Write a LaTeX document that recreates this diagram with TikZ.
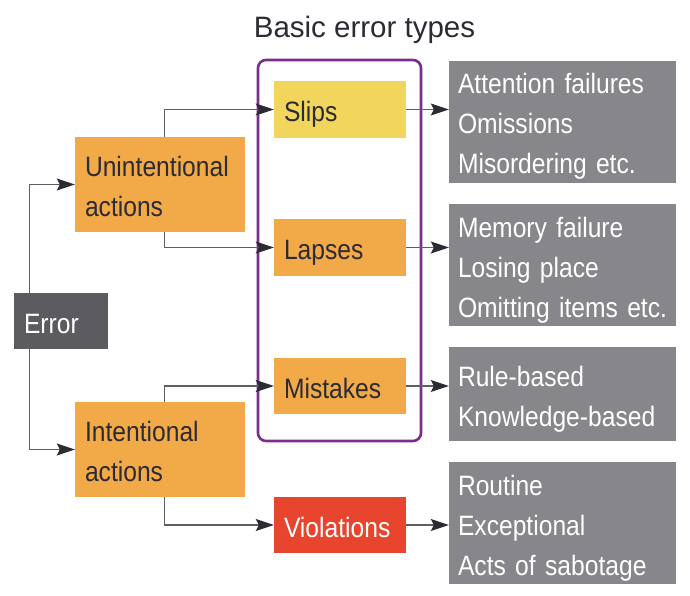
\documentclass[tikz,border=0pt]{standalone}
\usepackage{fontspec}
\setmainfont{Liberation Sans}
\newfontfamily\condfont[FakeStretch=0.88]{Liberation Sans}
\usetikzlibrary{arrows.meta}
\setlength{\parindent}{0pt}
\definecolor{orangebox}{HTML}{F2A947}
\definecolor{yellowbox}{HTML}{F2D55C}
\definecolor{redbox}{HTML}{E8452F}
\definecolor{graybox}{HTML}{87878B}
\definecolor{darkbox}{HTML}{5B5B60}
\definecolor{purpleframe}{HTML}{7B2C8F}
\definecolor{inkdark}{HTML}{2B2B33}
\definecolor{linegray}{HTML}{5E5E63}
\newcommand{\lstrut}{\rule[-8pt]{0pt}{40pt}}
\begin{document}
\begin{tikzpicture}[x=1pt,y=-1pt,
  boxbase/.style={inner xsep=10pt, inner ysep=0pt, align=left,
    font=\condfont\fontsize{28}{40}\selectfont, anchor=center},
  orangenode/.style={boxbase, fill=orangebox, text=inkdark},
  yellownode/.style={boxbase, fill=yellowbox, text=inkdark},
  rednode/.style={boxbase, fill=redbox, text=white},
  darknode/.style={boxbase, fill=darkbox, text=white},
  graynode/.style={boxbase, inner xsep=9pt, fill=graybox, text=white, text width=209pt},
  typebox/.style={text width=112pt, minimum height=57pt},
  actionbox/.style={text width=150pt, minimum height=95pt},
  conn/.style={draw=linegray, line width=1.2pt, -{Stealth[length=18pt,width=12pt,inset=3pt,color=inkdark]}},
  groupframe/.style={draw=purpleframe, line width=2.6pt, rounded corners=8pt,
    minimum width=163pt, minimum height=381pt, inner sep=0pt}
]
\useasboundingbox (0,0) rectangle (690,596);

% group frame and title
\node[groupframe] (grp) at (339.5,250.5) {};
\node[font=\fontsize{29.5}{34}\selectfont, text=inkdark, anchor=base, inner sep=0pt] (title) at (364.5,38) {Basic error types};

% root
\node[darknode, text width=74pt, minimum height=56pt] (err) at (61,321) {\lstrut Error};

% actions
\node[orangenode, actionbox] (unint) at (160,184.5) {\lstrut Unintentional\\\lstrut actions};
\node[orangenode, actionbox] (int) at (160,449.5) {\lstrut Intentional\\\lstrut actions};

% error types
\node[yellownode, typebox] (slips) at (340,109.5) {\lstrut Slips};
\node[orangenode, typebox] (lapses) at (340,247.5) {\lstrut Lapses};
\node[orangenode, typebox, minimum height=56pt] (mist) at (340,386) {\lstrut Mistakes};
\node[rednode, typebox, minimum height=56pt] (viol) at (340,525) {\lstrut Violations};

% descriptions
\node[graynode, minimum height=122pt] (g1) at (562.5,122) {\lstrut Attention failures\\\lstrut Omissions\\\lstrut Misordering etc.};
\node[graynode, minimum height=122pt] (g2) at (562.5,265) {\lstrut Memory failure\\\lstrut Losing place\\\lstrut Omitting items etc.};
\node[graynode, minimum height=94pt] (g3) at (562.5,394) {\lstrut Rule-based\\\lstrut Knowledge-based};
\node[graynode, minimum height=122pt] (g4) at (562.5,523) {\lstrut Routine\\\lstrut Exceptional\\\lstrut Acts of sabotage};

% connectors
\draw[conn] ([xshift=16pt]err.north west) |- (unint.west);
\draw[conn] ([xshift=16pt]err.south west) |- (int.west);
\draw[conn] ([xshift=90pt]unint.north west) |- (slips.west);
\draw[conn] ([xshift=90pt]unint.south west) |- (lapses.west);
\draw[conn] ([xshift=90pt]int.north west) |- (mist.west);
\draw[conn] ([xshift=90pt]int.south west) |- (viol.west);
\draw[conn] (slips.east) -- (slips.east -| g1.west);
\draw[conn] (lapses.east) -- (lapses.east -| g2.west);
\draw[conn] (mist.east) -- (mist.east -| g3.west);
\draw[conn] (viol.east) -- (viol.east -| g4.west);
\end{tikzpicture}
\end{document}
